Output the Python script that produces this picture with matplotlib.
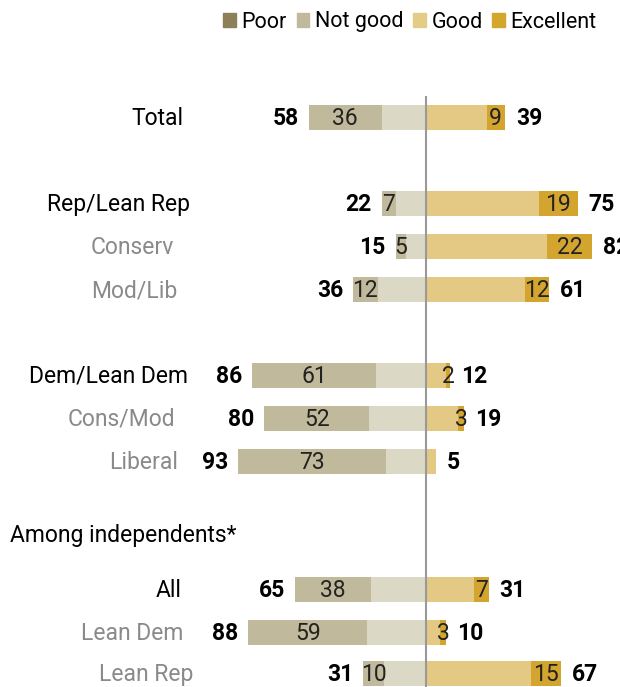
import matplotlib.pyplot as plt
from matplotlib.patches import Patch

plt.rcParams["font.family"] = ["Roboto", "DejaVu Sans"]

labels = ["Total", "Rep/Lean Rep", "Conserv", "Mod/Lib", "Dem/Lean Dem",
          "Cons/Mod", "Liberal", "All", "Lean Dem", "Lean Rep"]
poor = [36, 7, 5, 12, 61, 52, 73, 38, 59, 10]
not_good_total = [58, 22, 15, 36, 86, 80, 93, 65, 88, 31]
excellent = [9, 19, 22, 12, 2, 3, 0, 7, 3, 15]
good_total = [39, 75, 82, 61, 12, 19, 5, 31, 10, 67]
is_sub = [False, False, True, True, False, True, True, False, True, True]

# row slots (layout only)
rows = [0, 2, 3, 4, 6, 7, 8, 11, 12, 12.95]
label_right = [-120, -117, -125, -123, -118, -124, -123, -121, -120, -115]
header_row = 9.72

C_POOR = "#c1b99c"
C_NOTGOOD = "#dcd8c6"
C_GOOD = "#e3c983"
C_EXC = "#d3a52f"
LEG_POOR = "#8d7f57"
LEG_NOTGOOD = "#c1b99c"
LEG_GOOD = "#e3cc85"
LEG_EXC = "#d4a72c"
SUB_GRAY = "#8a8a8a"

PX = 2.02      # pixels per percentage point
RPX = 42.9     # pixels per row slot
CX, CY = 426, 118
W, H = 620, 687

fig = plt.figure(figsize=(W / 100, H / 100), dpi=100)
ax = fig.add_axes([0, 0, 1, 1])
ax.set_xlim(-CX / PX, (W - CX) / PX)
ax.set_ylim((H - CY) / RPX, -CY / RPX)
ax.axis("off")

bh = 25 / RPX
fs = 16.5
off = 11 / PX
dy = 1 / RPX   # nudge text down a little

for i, y in enumerate(rows):
    ng = not_good_total[i]
    p = poor[i]
    g = good_total[i]
    e = excellent[i]
    # left side: poor outermost, not good next to center
    ax.barh(y, -(ng - p), left=0, height=bh, color=C_NOTGOOD, lw=0)
    ax.barh(y, -p, left=-(ng - p), height=bh, color=C_POOR, lw=0)
    # right side: good from center, excellent at the end
    ax.barh(y, g - e, left=0, height=bh, color=C_GOOD, lw=0)
    if e > 0:
        ax.barh(y, e, left=g - e, height=bh, color=C_EXC, lw=0)

    ty = y + dy
    ax.text(-(ng - p) - p / 2, ty, str(p), ha="center", va="center",
            fontsize=fs, color="#222222")
    if e > 0:
        ax.text(g - e / 2, ty, str(e), ha="center", va="center",
                fontsize=fs, color="#222222")
    ax.text(-ng - off * 0.9, ty, str(ng), ha="right", va="center",
            fontsize=fs, fontweight="bold", color="black")
    ax.text(g + off, ty, str(g), ha="left", va="center",
            fontsize=fs, fontweight="bold", color="black")

    ax.text(label_right[i], ty, labels[i], ha="right", va="center",
            fontsize=fs, color=SUB_GRAY if is_sub[i] else "black")

ax.text(-CX / PX + 10 / PX, header_row + dy, "Among independents*", ha="left",
        va="center", fontsize=fs, color="black")

ax.plot([0, 0], [(97 - CY) / RPX, (H - CY) / RPX], color="#999999", lw=1.5,
        zorder=5)

handles = [Patch(color=LEG_POOR, label="Poor"),
           Patch(color=LEG_NOTGOOD, label="Not good"),
           Patch(color=LEG_GOOD, label="Good"),
           Patch(color=LEG_EXC, label="Excellent")]
fig.legend(handles=handles, loc="center", ncol=4,
           bbox_to_anchor=(410 / W, 1 - 22 / H), frameon=False,
           fontsize=15.5, handlelength=0.6, handleheight=0.6,
           handletextpad=0.25, columnspacing=0.45, borderpad=0)

fig.savefig("out.png", dpi=100)
